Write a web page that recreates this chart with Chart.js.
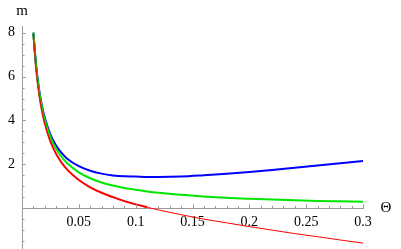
<!DOCTYPE html>
<html>
<head>
<meta charset="utf-8">
<script src="https://cdn.jsdelivr.net/npm/chart.js@4.4.1/dist/chart.umd.min.js"></script>
<style>
  html, body { margin: 0; padding: 0; background: #fff; }
  #wrap { width: 401px; height: 249px; }
</style>
</head>
<body>
<div id="wrap"><canvas id="plot"></canvas></div>
<script>
// values
var theta = [0.01, 0.0125, 0.015, 0.0175, 0.02, 0.025, 0.03, 0.035, 0.04, 0.05, 0.06, 0.07, 0.08, 0.09, 0.1, 0.11, 0.12, 0.14, 0.16, 0.18, 0.2, 0.22, 0.24, 0.26, 0.28, 0.3];
var mBlue  = [8.0, 6.48, 5.43, 4.68, 4.13, 3.36, 2.86, 2.51, 2.25, 1.92, 1.71, 1.58, 1.5, 1.46, 1.45, 1.43, 1.43, 1.45, 1.51, 1.58, 1.66, 1.75, 1.85, 1.95, 2.05, 2.16];
var mGreen = [8.0, 6.44, 5.37, 4.61, 4.04, 3.24, 2.71, 2.33, 2.04, 1.64, 1.37, 1.18, 1.04, 0.93, 0.85, 0.77, 0.71, 0.62, 0.54, 0.48, 0.44, 0.4, 0.37, 0.34, 0.32, 0.3];
var mRed   = [7.95, 6.32, 5.24, 4.46, 3.88, 3.05, 2.48, 2.07, 1.75, 1.29, 0.96, 0.71, 0.51, 0.33, 0.18, 0.05, -0.07, -0.29, -0.49, -0.66, -0.83, -0.99, -1.15, -1.29, -1.44, -1.58];
var xTicks = [0.05, 0.1, 0.15, 0.2, 0.25, 0.3];
var yTicks = [2, 4, 6, 8];

function pts(ys) {
  return theta.map(function (t, i) { return {x: t, y: ys[i]}; });
}
var redPos = pts(mRed).filter(function (p) { return p.y >= 0; });

var axisColor = '#9a9a9a';
var serif = 'Liberation Serif, Times New Roman, serif';

// fixed scale sizes so the plot lands where the reference has it
function fitX(s) {
  s.height = 0;
  s.paddingTop = s.paddingBottom = s.paddingLeft = s.paddingRight = 0;
}
function fitY(s) {
  s.width = 22;
  s.paddingTop = s.paddingBottom = s.paddingLeft = s.paddingRight = 0;
}

// little inward tick marks + axis names, Mathematica style
var axisDecor = {
  id: 'axisDecor',
  afterDraw: function (chart) {
    var c = chart.ctx, xs = chart.scales.x, ys = chart.scales.y;
    var x0 = xs.getPixelForValue(0), y0 = ys.getPixelForValue(0);
    c.save();
    c.strokeStyle = axisColor;
    c.lineWidth = 1;
    c.beginPath();
    for (var i = 1; i <= 30; i++) {
      var px = Math.round(xs.getPixelForValue(i / 100)) + 0.5;
      var len = (i % 5 === 0) ? 4 : 2.5;
      c.moveTo(px, y0); c.lineTo(px, y0 - len);
    }
    for (var j = -3; j <= 16; j++) {
      if (j === 0) continue;
      var py = Math.round(ys.getPixelForValue(j / 2)) + 0.5;
      var l2 = (j % 4 === 0) ? 4 : 2.5;
      c.moveTo(x0, py); c.lineTo(x0 + l2, py);
    }
    c.stroke();
    c.fillStyle = '#000';
    c.font = '15px ' + serif;
    c.textAlign = 'center';
    c.textBaseline = 'middle';
    c.fillText('m', x0, 11);
    c.fillText('\u0398', 386, y0);
    c.restore();
  }
};

new Chart(document.getElementById('plot'), {
  type: 'scatter',
  data: {
    datasets: [
      {data: pts(mRed), borderColor: '#ff0000', borderWidth: 1},
      {data: pts(mGreen), borderColor: '#00e600', borderWidth: 2},
      {data: pts(mBlue), borderColor: '#0000ff', borderWidth: 2},
      {data: redPos, borderColor: '#ff0000', borderWidth: 2}
    ]
  },
  options: {
    responsive: true,
    maintainAspectRatio: false,
    animation: false,
    showLine: true,
    elements: {
      point: {radius: 0, hoverRadius: 0},
      line: {cubicInterpolationMode: 'monotone', fill: false}
    },
    layout: {padding: {left: 0, right: 38, top: 26, bottom: 0}},
    plugins: {legend: {display: false}, tooltip: {enabled: false}},
    scales: {
      x: {
        type: 'linear',
        min: 0, max: 0.3,
        position: {y: 0},
        afterBuildTicks: function (s) { s.ticks = xTicks.map(function (v) { return {value: v}; }); },
        afterFit: fitX,
        grid: {display: false, drawTicks: false},
        border: {display: true, color: axisColor, width: 1},
        ticks: {
          padding: 6,
          color: '#000',
          font: {family: serif, size: 14},
          maxRotation: 0,
          autoSkip: false,
          callback: function (v) { return String(v); }
        }
      },
      y: {
        type: 'linear',
        min: -1.85, max: 8.3,
        position: 'left',
        afterBuildTicks: function (s) { s.ticks = yTicks.map(function (v) { return {value: v}; }); },
        afterFit: fitY,
        grid: {display: false, drawTicks: false},
        border: {display: true, color: axisColor, width: 1},
        ticks: {
          padding: 7,
          color: '#000',
          font: {family: serif, size: 14},
          autoSkip: false,
          callback: function (v) { return String(v); }
        }
      }
    }
  },
  plugins: [axisDecor]
});
</script>
</body>
</html>
